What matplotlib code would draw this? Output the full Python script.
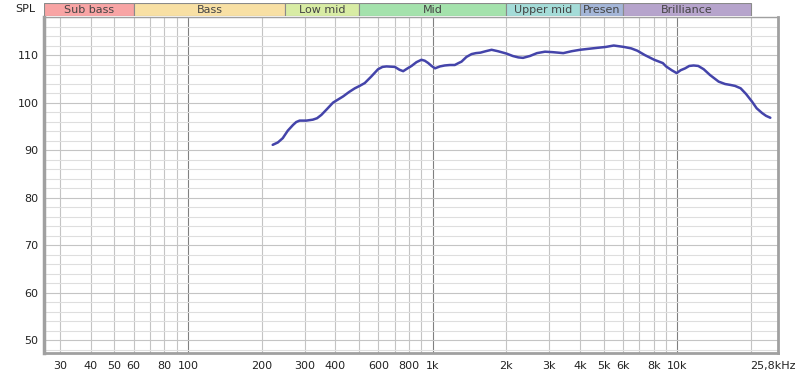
import matplotlib
matplotlib.use('Agg')
import matplotlib.pyplot as plt
import matplotlib.transforms as mtransforms
from matplotlib.patches import Rectangle

plt.rcParams['font.family'] = ['DejaVu Sans']

# frequency response
freq = [222, 233, 244, 256, 269, 277, 286, 305, 324, 337, 351, 368, 392, 431,
        455, 481, 503, 528, 562, 598, 624, 648, 701, 732, 758, 790, 820, 859,
        900, 929, 960, 990, 1023, 1071, 1120, 1176, 1232, 1275, 1312, 1375,
        1443, 1503, 1568, 1648, 1742, 1849, 2005, 2125, 2240, 2341, 2500,
        2670, 2880, 3100, 3420, 3700, 4003, 4330, 4690, 5100, 5500, 6050,
        6480, 6870, 7360, 8050, 8730, 9000, 9490, 9940, 10320, 10770, 11190,
        11660, 12180, 12830, 13600, 14760, 15680, 16510, 17220, 18150, 19100,
        20200, 21100, 22200, 23060, 24000]
spl = [91.1, 91.6, 92.5, 94.1, 95.3, 95.9, 96.2, 96.2, 96.4, 96.7, 97.4, 98.5,
       100.0, 101.3, 102.2, 103.0, 103.5, 104.1, 105.5, 107.0, 107.5, 107.6,
       107.5, 106.9, 106.6, 107.2, 107.7, 108.5, 109.0, 108.8, 108.3, 107.7,
       107.2, 107.6, 107.8, 107.9, 107.9, 108.3, 108.6, 109.6, 110.2, 110.4,
       110.5, 110.8, 111.1, 110.8, 110.3, 109.8, 109.5, 109.4, 109.8, 110.4,
       110.7, 110.6, 110.4, 110.8, 111.1, 111.3, 111.5, 111.7, 112.0, 111.7,
       111.4, 110.9, 110.0, 109.0, 108.3, 107.6, 106.8, 106.2, 106.8, 107.2,
       107.7, 107.8, 107.7, 107.0, 105.8, 104.4, 103.9, 103.7, 103.5, 103.0,
       101.8, 100.2, 98.8, 97.8, 97.2, 96.8]

band_names = ['Sub bass', 'Bass', 'Low mid', 'Mid', 'Upper mid', 'Presen', 'Brilliance']
band_edges = [25.8, 60, 250, 500, 2000, 4000, 6000, 20000]
band_colors = ['#f8a4a4', '#f8e0a4', '#d8eca4', '#a4e2ac', '#a4dcd8', '#a4b6d8', '#b6a4cc']

xtick_vals = [30, 40, 50, 60, 80, 100, 200, 300, 400, 600, 800, 1000, 2000,
              3000, 4000, 5000, 6000, 8000, 10000, 25800]
xtick_labels = ['30', '40', '50', '60', '80', '100', '200', '300', '400', '600',
                '800', '1k', '2k', '3k', '4k', '5k', '6k', '8k', '10k', '25,8kHz']
ytick_vals = [50, 60, 70, 80, 90, 100, 110]

fmin, fmax = 25.8, 25800
ymin, ymax = 47.3, 118

fig = plt.figure(figsize=(8, 3.78), dpi=100)
ax = fig.add_axes([44 / 800, 1 - 353 / 378, 734 / 800, 336 / 378])
ax.set_xscale('log')
ax.set_xlim(fmin, fmax)
ax.set_ylim(ymin, ymax)

# grid
minor_f = [m * d for d in (10, 100, 1000, 10000) for m in range(2, 10)]
minor_f = [f for f in minor_f if fmin < f < fmax]
for f in minor_f:
    ax.axvline(f, color='#c4c4c4', lw=0.8, zorder=1)
for f in (100, 1000, 10000):
    ax.axvline(f, color='#808080', lw=0.8, zorder=1)
for y in range(48, 119, 2):
    c = '#c4c4c4' if y % 10 == 0 else '#dedede'
    ax.axhline(y, color=c, lw=0.8, zorder=1)

ax.plot(freq, spl, color='#4444aa', lw=1.8, zorder=3,
        solid_capstyle='round', solid_joinstyle='round')

ax.set_xticks(xtick_vals)
ax.set_xticklabels(xtick_labels)
ax.minorticks_off()
ax.set_yticks(ytick_vals)
ax.tick_params(length=0, labelsize=8, colors='#222222', pad=4)
ax.xaxis.set_tick_params(pad=6)
last = ax.get_xticklabels()[-1]
last.set_transform(last.get_transform() +
                   mtransforms.ScaledTranslation(-5 / 100, 0, fig.dpi_scale_trans))
for spine in ax.spines.values():
    spine.set_color('#a0a0a0')
ax.spines['left'].set_linewidth(2.5)
ax.spines['bottom'].set_linewidth(2)
ax.spines['top'].set_linewidth(1)
ax.spines['right'].set_linewidth(2)

fig.text(15 / 800, 1 - 9 / 378, 'SPL', fontsize=8, va='center', ha='left', color='#222222')

# band bar above the plot
bax = fig.add_axes([44 / 800, 1 - 15.5 / 378, 734 / 800, 13 / 378])
bax.set_xscale('log')
bax.set_xlim(fmin, fmax)
bax.set_ylim(0, 1)
bax.axis('off')
for name, lo, hi, c in zip(band_names, band_edges[:-1], band_edges[1:], band_colors):
    bax.add_patch(Rectangle((lo, 0), hi - lo, 1, facecolor=c, edgecolor='#8a8a8a', lw=0.8))
    mid = (lo * hi) ** 0.5
    bax.text(mid, 0.45, name, ha='center', va='center', fontsize=8, color='#444444')

fig.savefig('out.png', dpi=100, facecolor='white')
